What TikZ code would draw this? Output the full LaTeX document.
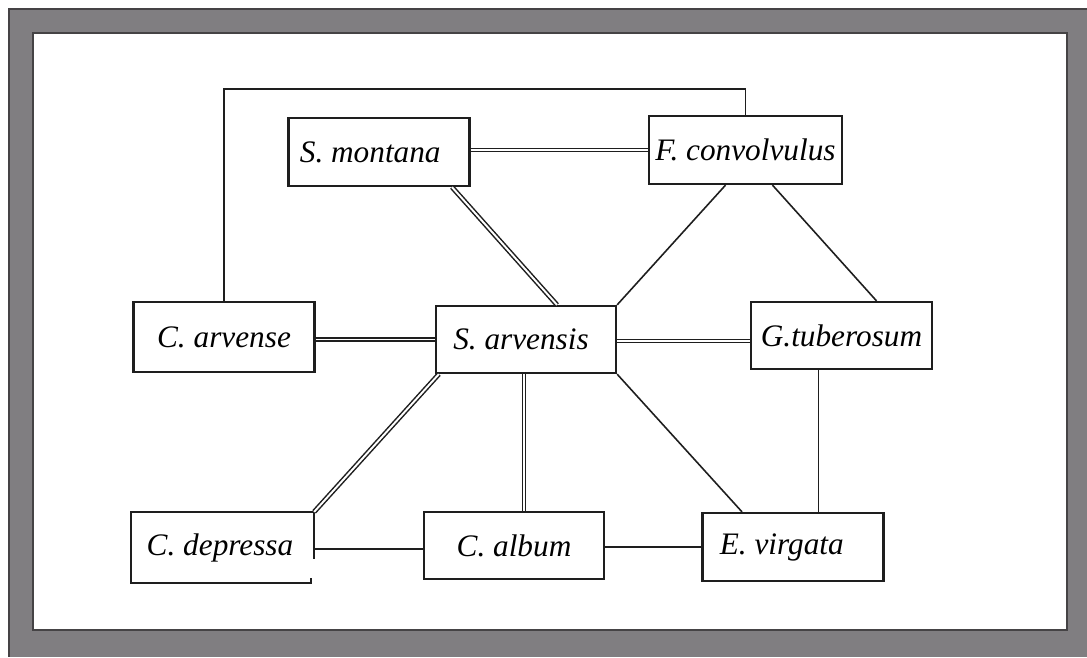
\documentclass[tikz,border=0pt]{standalone}
\usepackage{fontspec}
\setmainfont{Liberation Serif}
\usepackage{tikz}
\usetikzlibrary{calc}
\definecolor{Ink}{HTML}{1E1E1E}
\definecolor{Frame}{HTML}{807E81}
\definecolor{FrameEdge}{HTML}{454345}

\begin{document}
\begin{tikzpicture}[
  x=0.02cm, y=-0.02cm,
  font=\fontsize{17.8}{20}\selectfont\itshape,
  species/.style={draw=Ink, line width=1.3pt, fill=white, inner sep=0pt, minimum height=1.36cm, minimum width=3.62cm},
  link/.style={draw=Ink, line width=0.9pt},
  strong/.style={draw=Ink, line width=0.85pt, double=white, double distance=1.1pt}
]
\useasboundingbox (0,0) rectangle (1087,657);
% frame
\fill[Frame] (8,8) rectangle (1087,657);
\draw[FrameEdge, line width=1.2pt] (1087,9) -- (9,9) -- (9,657);
\draw[FrameEdge, line width=1.4pt, fill=white] (33,33) rectangle (1067,630);

\node[species] (montana) at (379,152) {S. montana\kern0.35cm};
\node[species, minimum width=3.86cm] (convolvulus) at (745.5,150) {F. convolvulus};
\node[species, minimum height=1.4cm] (arvense) at (224,337) {C. arvense};
\node[species, minimum width=3.6cm, minimum height=1.34cm] (arvensis) at (526,339.5) {S. arvensis\kern0.2cm};
\node[species, minimum height=1.34cm] (tuberosum) at (841.5,335.5) {G.tuberosum};
\node[species, draw=none, minimum height=1.38cm] (depressa) at (222.5,547.5) {C. depressa\kern0.1cm};
\node[species, minimum width=3.6cm, minimum height=1.34cm] (album) at (514,545.5) {C. album};
\node[species] (virgata) at (793,547) {E. virgata\kern0.45cm};

% broken outline of C. depressa
\draw[draw=Ink, line width=1.3pt] ($(depressa.north east)+(0,47)$) |- (depressa.north west) |- ($(depressa.south east)+(-3,0)$) -- ++(0,-5);

\draw[link] (arvense.north) -- ++(0,-212) -| (convolvulus.north);
\draw[strong] (montana.east |- convolvulus.west) -- (convolvulus.west);
\draw[strong] ($(montana.south)+(73,0)$) -- ($(arvensis.north)+(31,0)$);
\draw[link] ($(convolvulus.south)+(-20,0)$) -- (arvensis.north east);
\draw[link] ($(convolvulus.south)+(27,0)$) -- ($(tuberosum.north)+(35,0)$);
\draw[strong] (arvense.east |- arvensis.west) -- (arvensis.west);
\draw[strong] ($(arvensis.east)+(0,1.5)$) coordinate (bar) -- (bar -| tuberosum.west);
\draw[strong] ($(arvensis.south west)+(4,0)$) -- (depressa.north east);
\draw[strong] ($(arvensis.south)+(-2,0)$) coordinate (stem) -- (stem |- album.north);
\draw[link] (arvensis.south east) -- ($(virgata.north)+(-51,0)$);
\draw[link] ($(tuberosum.south)+(-23,0)$) coordinate (drop) -- (drop |- virgata.north);
\draw[link] ($(depressa.east)+(0,1.5)$) -- (album.west |- 0,549);
\draw[link] (album.east |- virgata.west) -- (virgata.west);
\end{tikzpicture}
\end{document}
